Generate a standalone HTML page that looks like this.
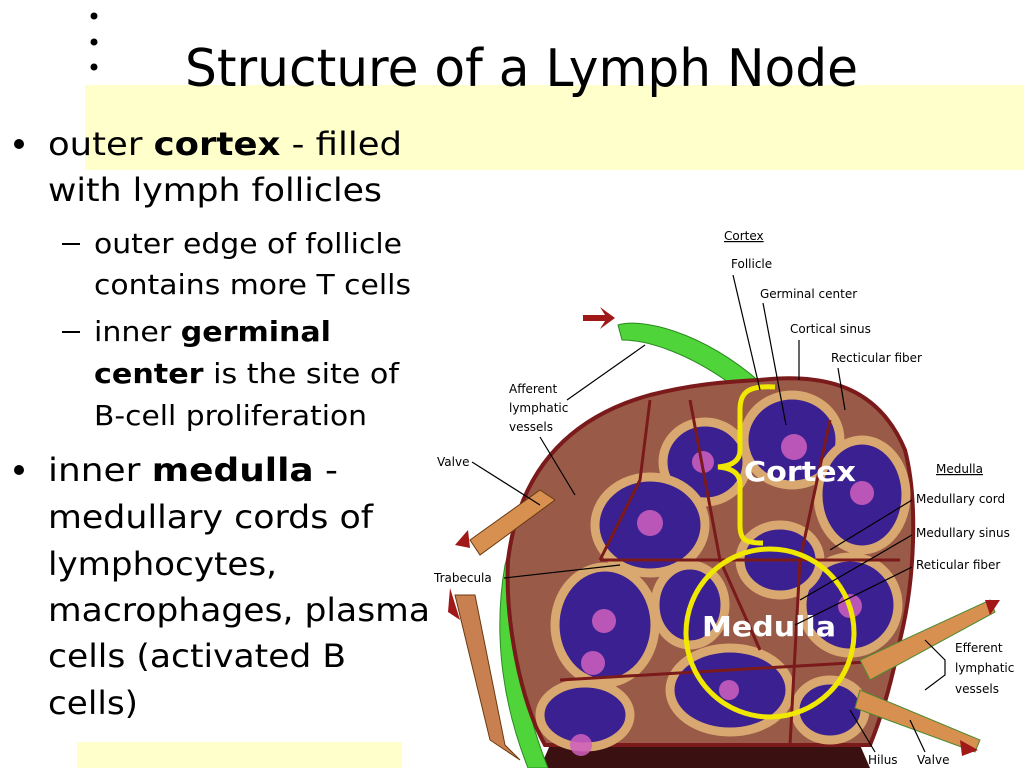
<!DOCTYPE html>
<html><head><meta charset="utf-8"><style>
html,body{margin:0;padding:0;background:#fff;}
svg{display:block;}
text{font-family:"DejaVu Sans","Liberation Sans",sans-serif;fill:#000;}
.lb{font-family:"Liberation Sans",sans-serif;font-size:12px;}
</style></head><body>
<svg width="1024" height="768" viewBox="0 0 1024 768" xmlns="http://www.w3.org/2000/svg">
<rect x="85" y="85" width="939" height="85" fill="#ffffcc"/>
<rect x="77" y="742" width="325" height="26" fill="#ffffcc"/>
<circle cx="94" cy="16" r="3.5"/><circle cx="94" cy="42" r="3.5"/><circle cx="94" cy="67" r="3.5"/>
<text x="185" y="86" font-size="52" textLength="673" lengthAdjust="spacingAndGlyphs">Structure of a Lymph Node</text>
<circle cx="19" cy="144" r="5"/><circle cx="19" cy="470" r="5"/>
<g font-size="32">
<text x="48" y="155" textLength="354" lengthAdjust="spacingAndGlyphs">outer <tspan font-weight="bold">cortex</tspan> - filled</text>
<text x="48" y="201" textLength="334" lengthAdjust="spacingAndGlyphs">with lymph follicles</text>
<text x="48" y="481" textLength="290" lengthAdjust="spacingAndGlyphs">inner <tspan font-weight="bold">medulla</tspan> -</text>
<text x="48" y="528" textLength="325" lengthAdjust="spacingAndGlyphs">medullary cords of</text>
<text x="48" y="575" textLength="229" lengthAdjust="spacingAndGlyphs">lymphocytes,</text>
<text x="48" y="621" textLength="382" lengthAdjust="spacingAndGlyphs">macrophages, plasma</text>
<text x="48" y="667" textLength="298" lengthAdjust="spacingAndGlyphs">cells (activated B</text>
<text x="48" y="714" textLength="90" lengthAdjust="spacingAndGlyphs">cells)</text>
</g>
<g font-size="28">
<rect x="62" y="243" width="18" height="2"/><rect x="62" y="331" width="18" height="2"/>
<text x="94" y="253" textLength="308" lengthAdjust="spacingAndGlyphs">outer edge of follicle</text>
<text x="94" y="294" textLength="317" lengthAdjust="spacingAndGlyphs">contains more T cells</text>
<text x="94" y="341" textLength="237" lengthAdjust="spacingAndGlyphs">inner <tspan font-weight="bold">germinal</tspan></text>
<text x="94" y="383" textLength="305" lengthAdjust="spacingAndGlyphs"><tspan font-weight="bold">center</tspan> is the site of</text>
<text x="94" y="425" textLength="273" lengthAdjust="spacingAndGlyphs">B-cell proliferation</text>
</g>
<!-- diagram -->
<path d="M540 768 L550 745 L860 745 L870 768 Z" fill="#3a1010"/>
<path d="M618 325 C 640 318, 700 330, 760 382 C 650 405, 560 470, 525 570 C 510 640, 525 710, 548 768 L 528 768 C 505 710, 492 640, 505 565 C 530 470, 610 405, 728 382 C 690 355, 650 340, 622 340 Z" fill="#4fd43a" stroke="#2b8a20" stroke-width="1"/>
<path d="M760 380 C 830 372, 880 390, 905 450 C 918 500, 915 580, 900 640 C 890 690, 880 720, 870 745 L 545 745 C 520 700, 505 620, 508 560 C 518 480, 560 420, 650 395 C 690 385, 720 382, 760 380 Z" fill="#9a5a48" stroke="#7a1a1a" stroke-width="4"/>
<g fill="#3a2090" stroke="#d8a870" stroke-width="9">
<ellipse cx="792" cy="440" rx="48" ry="45"/><ellipse cx="705" cy="462" rx="42" ry="40"/>
<ellipse cx="650" cy="525" rx="55" ry="48"/><ellipse cx="862" cy="495" rx="44" ry="55"/>
<ellipse cx="605" cy="625" rx="50" ry="58"/><ellipse cx="850" cy="605" rx="48" ry="48"/>
<ellipse cx="585" cy="715" rx="45" ry="32"/><ellipse cx="730" cy="690" rx="60" ry="42"/>
<ellipse cx="780" cy="560" rx="40" ry="35"/><ellipse cx="690" cy="605" rx="35" ry="40"/>
<ellipse cx="830" cy="710" rx="35" ry="30"/>
</g>
<g fill="#d060c0" opacity="0.85">
<circle cx="794" cy="447" r="13"/><circle cx="703" cy="462" r="11"/><circle cx="650" cy="523" r="13"/>
<circle cx="862" cy="493" r="12"/><circle cx="604" cy="621" r="12"/><circle cx="593" cy="663" r="12"/>
<circle cx="850" cy="606" r="12"/><circle cx="581" cy="745" r="11"/><circle cx="729" cy="690" r="10"/>
</g>
<g stroke="#7a1a1a" stroke-width="3" fill="none">
<path d="M690 400 L720 560 L760 650"/><path d="M650 400 L640 480 L600 560"/><path d="M600 560 L760 560 L900 560"/><path d="M560 680 L900 660"/><path d="M830 420 L800 560 L790 745"/>
</g>
<!-- vessels -->
<path d="M470 540 L540 490 L555 500 L480 555 Z" fill="#d89050" stroke="#6a3a10"/>
<path d="M455 595 L490 740 L520 760 L505 745 L475 595 Z" fill="#c88050" stroke="#6a3a10"/>
<path d="M860 660 L990 600 L995 612 L870 680 Z" fill="#d89050" stroke="#4a8a30"/>
<path d="M860 690 L980 740 L975 752 L855 708 Z" fill="#d89050" stroke="#4a8a30"/>
<g fill="#a01818"><path d="M583 315 L605 315 L600 307 L615 318 L600 329 L605 321 L583 321Z"/><path d="M985 600 L1000 600 L990 615Z"/><path d="M960 740 L978 750 L962 756Z"/><path d="M455 545 L468 530 L470 548Z"/><path d="M450 588 L460 620 L448 612Z"/></g>
<!-- yellow overlays -->
<path d="M775 387 C 745 385, 740 395, 740 410 L 740 450 C 740 462, 730 466, 718 467 C 730 468, 740 472, 740 484 L 740 525 C 740 540, 745 543, 763 543" fill="none" stroke="#f0e800" stroke-width="5"/>
<circle cx="770" cy="633" r="84" fill="none" stroke="#f0e800" stroke-width="5"/>
<text x="744" y="481" font-size="28" font-weight="bold" style="fill:#fff" textLength="112" lengthAdjust="spacingAndGlyphs">Cortex</text>
<text x="702" y="636" font-size="28" font-weight="bold" style="fill:#fff" textLength="134" lengthAdjust="spacingAndGlyphs">Medulla</text>
<!-- labels -->
<g class="lb">
<text x="724" y="240" text-decoration="underline">Cortex</text>
<text x="731" y="268">Follicle</text>
<text x="760" y="298">Germinal center</text>
<text x="790" y="333">Cortical sinus</text>
<text x="831" y="362">Recticular fiber</text>
<text x="509" y="393">Afferent</text><text x="509" y="412">lymphatic</text><text x="509" y="431">vessels</text>
<text x="437" y="466">Valve</text>
<text x="434" y="582">Trabecula</text>
<text x="936" y="473" text-decoration="underline">Medulla</text>
<text x="916" y="503">Medullary cord</text>
<text x="916" y="537">Medullary sinus</text>
<text x="916" y="569">Reticular fiber</text>
<text x="955" y="652">Efferent</text><text x="955" y="672">lymphatic</text><text x="955" y="693">vessels</text>
<text x="868" y="764">Hilus</text><text x="917" y="764">Valve</text>
</g>
<g stroke="#000" stroke-width="1.2">
<line x1="733" y1="275" x2="760" y2="390"/><line x1="763" y1="303" x2="786" y2="425"/>
<line x1="799" y1="340" x2="799" y2="380"/><line x1="838" y1="368" x2="845" y2="410"/>
<line x1="567" y1="400" x2="645" y2="345"/><line x1="540" y1="437" x2="575" y2="495"/>
<line x1="472" y1="462" x2="540" y2="505"/><line x1="504" y1="578" x2="620" y2="565"/>
<line x1="912" y1="500" x2="830" y2="550"/><line x1="912" y1="535" x2="800" y2="600"/><line x1="912" y1="567" x2="795" y2="625"/>
<polyline points="925,640 945,660 945,675 925,690" fill="none"/>
<line x1="850" y1="710" x2="875" y2="752"/><line x1="910" y1="720" x2="925" y2="752"/>
</g>
</svg>
</body></html>
